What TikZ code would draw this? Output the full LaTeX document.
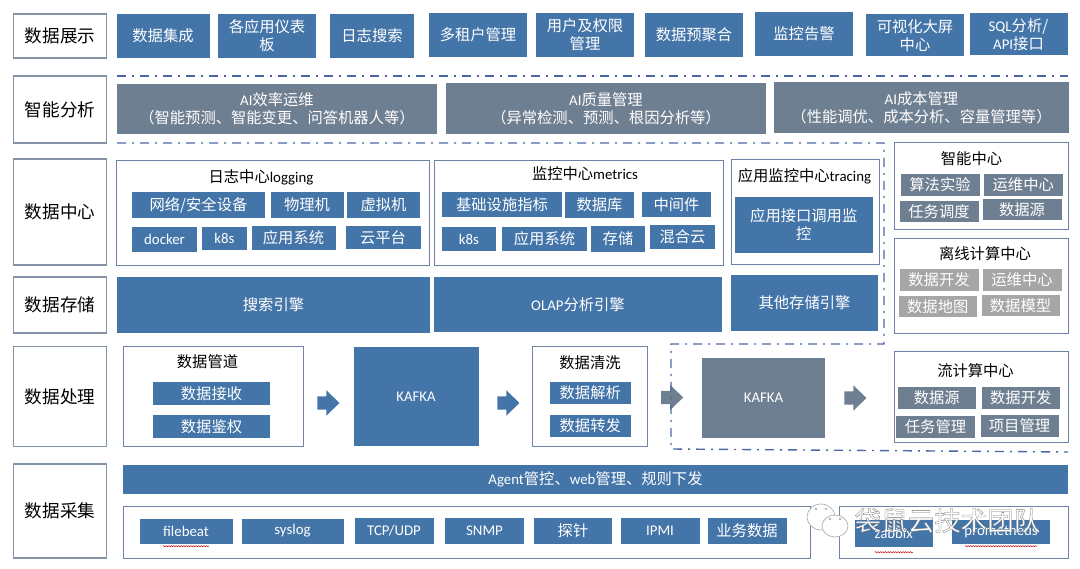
\documentclass[tikz,border=0pt]{standalone}
\usepackage{fontspec}
\setmainfont{Noto Sans CJK SC}
\newfontfamily\lat[Scale=0.97]{Carlito}
\usetikzlibrary{shapes.arrows,decorations.pathmorphing}
\definecolor{boxblue}{HTML}{4475A9}
\definecolor{boxslate}{HTML}{6F7F92}
\definecolor{boxgrey}{HTML}{A6A6A6}
\definecolor{framegrey}{HTML}{8494A6}
\definecolor{frameblue}{HTML}{6F83A8}
\definecolor{dashblue}{HTML}{4A68A6}
\tikzset{
  txt/.style={inner sep=0pt,align=center,font=\fontsize{15.3}{18}\selectfont},
  layer/.style={txt,draw=framegrey,line width=1.6pt,fill=white,minimum width=93,font=\fontsize{17.6}{20}\selectfont},
  panel/.style={draw=frameblue,line width=1pt,fill=white,inner sep=0pt},
  bluebox/.style={txt,fill=boxblue,text=white},
  slatebox/.style={txt,fill=boxslate,text=white},
  greybox/.style={txt,fill=boxgrey,text=white},
  blockarrow/.style={shape=single arrow,inner sep=0pt,text height=13pt,text depth=0pt,text width=0pt,
    single arrow head extend=6pt,single arrow tip angle=88,single arrow head indent=0pt,
    minimum width=25pt,minimum height=22pt},
  spellwave/.style={red!75!black,line width=.5pt,decorate,decoration={snake,amplitude=.6pt,segment length=2.5pt}},
  dashframe/.style={dashblue,line width=1.4pt,dash pattern=on 9pt off 6pt on 2pt off 6pt}
}
\begin{document}
\begin{tikzpicture}[x=1pt,y=-1pt]
\useasboundingbox (0,0) rectangle (1080,569);

% layer labels
\node[layer,minimum height=44] (show) at (60,36) {数据展示};
\node[layer,minimum height=67] (smart) at (60,109.5) {智能分析};
\node[layer,minimum height=106] (center) at (60,212) {数据中心};
\node[layer,minimum height=56] (store) at (60,305) {数据存储};
\node[layer,minimum height=100] (proc) at (60,396.5) {数据处理};
\node[layer,minimum height=94] (collect) at (60,511) {数据采集};

% top row
\node[bluebox,minimum width=93,minimum height=44] (integ) at (163,36) {数据集成};
\node[bluebox,minimum width=98,minimum height=44] (board) at (267,36) {各应用仪表\\板};
\node[bluebox,minimum width=84,minimum height=44] (logsearch) at (372,36) {日志搜索};
\node[bluebox,minimum width=98,minimum height=44] (tenant) at (478,35) {多租户管理};
\node[bluebox,minimum width=98,minimum height=44] (auth) at (585,35) {用户及权限\\管理};
\node[bluebox,minimum width=98,minimum height=44] (preagg) at (694,35) {数据预聚合};
\node[bluebox,minimum width=98,minimum height=44] (alert) at (804,34) {监控告警};
\node[bluebox,minimum width=98,minimum height=42] (screen) at (915,35.5) {可视化大屏\\中心};
\node[bluebox,minimum width=98,minimum height=42] (sql) at (1018.5,34.5) {\lat SQL\normalfont 分析/\\\lat API\normalfont 接口};

% AI row
\node[slatebox,minimum width=320,minimum height=50] (aieff) at (277,109) {\lat AI\normalfont 效率运维\\（智能预测、智能变更、问答机器人等）};
\node[slatebox,minimum width=320,minimum height=51] (aiqual) at (606,108.5) {\lat AI\normalfont 质量管理\\（异常检测、预测、根因分析等）};
\node[slatebox,minimum width=295,minimum height=51] (aicost) at (921.5,107.5) {\lat AI\normalfont 成本管理\\（性能调优、成本分析、容量管理等）};

% logging
\node[panel,minimum width=313,minimum height=105.5] (logging) at (273,213.25) {};
\node[txt] (loggingt) at (261,177) {日志中心\lat logging};
\node[bluebox,minimum width=133,minimum height=26] (netdev) at (198.5,205) {网络/安全设备};
\node[bluebox,minimum width=73,minimum height=26] (phys) at (307,205) {物理机};
\node[bluebox,minimum width=73,minimum height=26] (virt) at (383.5,205) {虚拟机};
\node[bluebox,minimum width=65,minimum height=25] (docker) at (164.5,239.5) {\lat docker};
\node[bluebox,minimum width=45,minimum height=23] (ksa) at (224.5,238.5) {\lat k8s};
\node[bluebox,minimum width=84,minimum height=24] (appa) at (293.5,238) {应用系统};
\node[bluebox,minimum width=75,minimum height=23] (cloud) at (383,237.5) {云平台};

% metrics
\node[panel,minimum width=289,minimum height=105.5] (metrics) at (578.5,213.25) {};
\node[txt] (metricst) at (585,174) {监控中心\lat metrics};
\node[bluebox,minimum width=120,minimum height=25] (infra) at (502,204.5) {基础设施指标};
\node[bluebox,minimum width=69,minimum height=26] (dbase) at (599.5,205) {数据库};
\node[bluebox,minimum width=69,minimum height=25] (middle) at (676.5,204.5) {中间件};
\node[bluebox,minimum width=54,minimum height=24] (ksb) at (469,239) {\lat k8s};
\node[bluebox,minimum width=85,minimum height=24] (appb) at (544.5,239) {应用系统};
\node[bluebox,minimum width=54,minimum height=26] (stor) at (618,239) {存储};
\node[bluebox,minimum width=65,minimum height=24] (hybrid) at (682.5,237) {混合云};

% tracing
\node[panel,minimum width=148,minimum height=105] (tracing) at (805,212.5) {};
\node[txt] (tracingt) at (804.5,176) {应用监控中心\lat tracing};
\node[bluebox,minimum width=137.5,minimum height=56] (apicall) at (803.75,225) {应用接口调用监\\控};

% smart center
\node[panel,minimum width=174,minimum height=87] (ai) at (981,186.5) {};
\node[txt] (ait) at (971.5,159) {智能中心};
\node[slatebox,minimum width=79,minimum height=22] (algo) at (940,185) {算法实验};
\node[slatebox,minimum width=78.5,minimum height=22] (opsa) at (1023.25,185) {运维中心};
\node[slatebox,minimum width=79,minimum height=21] (sched) at (939,211.5) {任务调度};
\node[slatebox,minimum width=79,minimum height=21] (srca) at (1022,209.5) {数据源};

% offline
\node[panel,minimum width=174,minimum height=94.5] (offline) at (981,286) {};
\node[txt] (offlinet) at (985,254) {离线计算中心};
\node[greybox,minimum width=79,minimum height=22] (deva) at (939,280) {数据开发};
\node[greybox,minimum width=79,minimum height=22] (opsb) at (1022,280) {运维中心};
\node[greybox,minimum width=78.5,minimum height=21] (dmap) at (937.75,307) {数据地图};
\node[greybox,minimum width=78,minimum height=21] (dmodel) at (1020.5,305.5) {数据模型};

% storage
\node[bluebox,minimum width=313,minimum height=56] (search) at (273.5,305) {搜索引擎};
\node[bluebox,minimum width=288,minimum height=55] (olap) at (578,304.5) {\lat OLAP\normalfont 分析引擎};
\node[bluebox,minimum width=147,minimum height=56] (other) at (804.5,303) {其他存储引擎};

% processing
\node[panel,minimum width=179.5,minimum height=100] (pipe) at (213.25,397) {};
\node[txt] (pipet) at (207.5,362) {数据管道};
\node[bluebox,minimum width=117,minimum height=23] (recv) at (211.5,393.5) {数据接收};
\node[bluebox,minimum width=117,minimum height=23] (authz) at (211.5,426.5) {数据鉴权};
\node[blockarrow,fill=boxblue] (arra) at (325,403) {};
\node[bluebox,minimum width=125,minimum height=99.5] (kafkaa) at (416,396.5) {\lat KAFKA};
\node[blockarrow,fill=boxblue] (arrb) at (505,403) {};
\node[panel,minimum width=115,minimum height=100] (clean) at (589.5,397) {};
\node[txt] (cleant) at (590,363) {数据清洗};
\node[bluebox,minimum width=80.5,minimum height=22] (parse) at (590.25,393) {数据解析};
\node[bluebox,minimum width=80.5,minimum height=22] (fwd) at (590.25,426) {数据转发};
\node[blockarrow,fill=boxslate] (arrc) at (668.7,397.5) {};
\node[slatebox,minimum width=123.5,minimum height=80] (kafkab) at (763.5,398) {\lat KAFKA};
\node[blockarrow,fill=boxslate] (arrd) at (852,398) {};

% stream
\node[panel,minimum width=174,minimum height=91] (stream) at (981,397.5) {};
\node[txt] (streamt) at (975.5,371) {流计算中心};
\node[slatebox,minimum width=78.5,minimum height=22] (srcb) at (936.75,398) {数据源};
\node[slatebox,minimum width=78.5,minimum height=22] (devb) at (1020.75,398) {数据开发};
\node[slatebox,minimum width=79,minimum height=22] (task) at (935.5,427) {任务管理};
\node[slatebox,minimum width=78,minimum height=22] (proj) at (1019.5,426) {项目管理};

% collection
\node[bluebox,minimum width=945,minimum height=29] (agent) at (595.5,479.5) {\lat Agent\normalfont 管控、\lat web\normalfont 管理、规则下发};
\node[panel,minimum width=686.5,minimum height=52] (agents) at (466.75,532) {};
\node[bluebox,minimum width=93,minimum height=25] (filebeat) at (186,531.5) {\lat filebeat};
\node[bluebox,minimum width=102,minimum height=25] (syslog) at (292.5,531) {\lat syslog};
\node[bluebox,minimum width=79,minimum height=26] (tcp) at (394,531) {\lat TCP/UDP};
\node[bluebox,minimum width=79,minimum height=26] (snmp) at (484.5,531) {\lat SNMP};
\node[bluebox,minimum width=78,minimum height=26] (probe) at (573,531) {探针};
\node[bluebox,minimum width=79,minimum height=26] (ipmi) at (660,531) {\lat IPMI};
\node[bluebox,minimum width=79,minimum height=26] (biz) at (747,531) {业务数据};
\node[panel,minimum width=229,minimum height=52] (pull) at (954,532) {};
\node[bluebox,minimum width=78.5,minimum height=27] (zabbix) at (893.75,533.5) {\lat zabbix};
\node[bluebox,minimum width=98,minimum height=24] (prom) at (1001,532) {\lat prometheus};

% spelling marks
\draw[spellwave] ([xshift=-23,yshift=-2]filebeat.south) -- ([xshift=23,yshift=-2]filebeat.south);
\draw[spellwave] ([xshift=-19,yshift=-5]zabbix.south) -- ([xshift=19,yshift=-5]zabbix.south);
\draw[spellwave] ([xshift=-36,yshift=-2]prom.south) -- ([xshift=36,yshift=-2]prom.south);

% dash-dot frames
\draw[dashframe] (117,76) -- (1068,76);
\draw[dashframe] (117,143) -- (884,143) -- (884,344) -- (671,344) -- (671,449) -- (1068,452);

% watermark
\draw[gray!70,line width=.6pt,fill=white] (821,517) ellipse [x radius=14,y radius=13];
\draw[gray!70,line width=.6pt,fill=white] (835,526) ellipse [x radius=13,y radius=11];
\foreach \dotx/\doty in {816/509,826/509,830/519,840/519}
  \fill[gray!80] (\dotx,\doty) circle [radius=1.2];
\node[txt,text=white,font=\fontsize{26.5}{30}\selectfont] (mark) at (947.5,520.5)
  {\special{pdf:code 2 Tr 0.3 w 0.45 G}袋鼠云技术团队};
\end{tikzpicture}
\end{document}
